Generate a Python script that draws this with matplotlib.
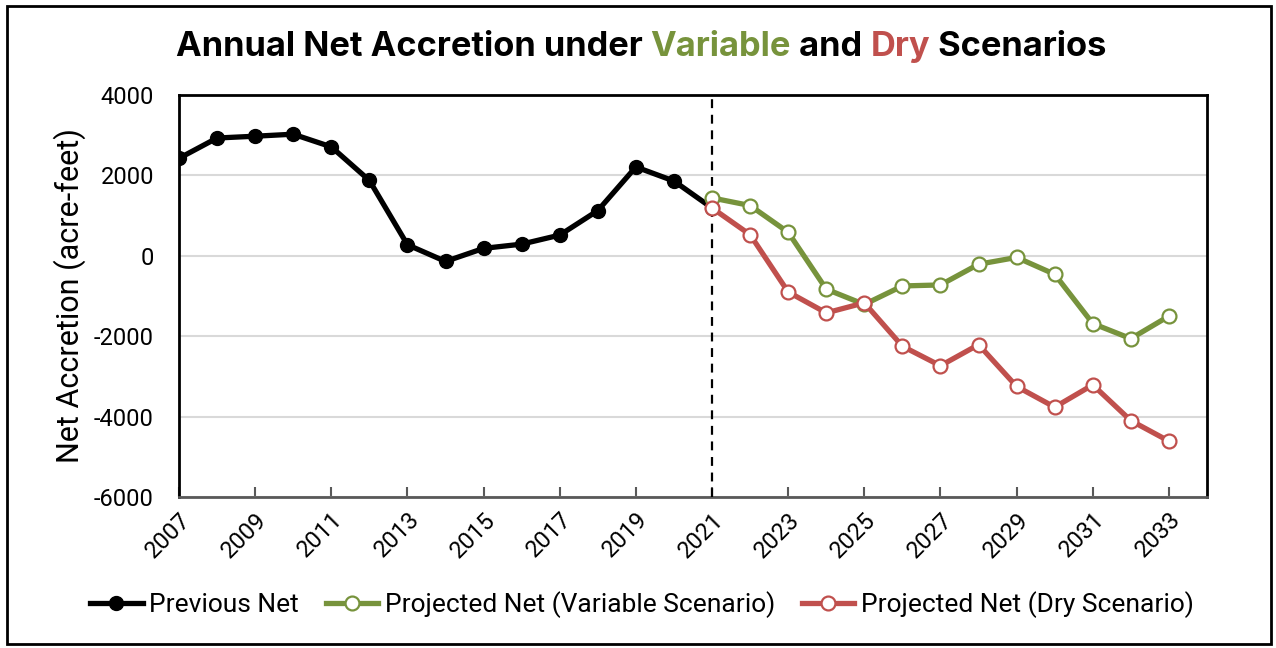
import numpy as np
import matplotlib.pyplot as plt
from matplotlib.patches import Rectangle

years_prev = [2007, 2008, 2009, 2010, 2011, 2012, 2013, 2014, 2015, 2016, 2017, 2018, 2019, 2020, 2021]
prev_net = [2425, 2930, 2975, 3025, 2710, 1875, 275, -140, 185, 290, 515, 1125, 2210, 1860, 1190]

years_proj = list(range(2021, 2034))
variable_net = [1440, 1250, 585, -830, -1210, -750, -725, -210, -40, -460, -1685, -2060, -1500]
dry_net = [1190, 525, -900, -1420, -1170, -2250, -2735, -2210, -3250, -3765, -3210, -4100, -4610]

tick_years = list(range(2007, 2034, 2))
y_ticks = [-6000, -4000, -2000, 0, 2000, 4000]

green = '#77933C'
red = '#C0504D'

plt.rcParams['font.family'] = ['Roboto', 'DejaVu Sans']

fig = plt.figure(figsize=(12.76, 6.48), dpi=100)
ax = fig.add_axes([179/1276, 1 - 497/648, (1207-179)/1276, (497-95)/648])

ax.plot(years_prev, prev_net, color='black', lw=3.8, marker='o', ms=10, label='Previous Net', zorder=4)
ax.plot(years_proj, variable_net, color=green, lw=3.8, marker='o', ms=10, mfc='white', mec=green, mew=1.6,
        label='Projected Net (Variable Scenario)', zorder=5)
ax.plot(years_proj, dry_net, color=red, lw=3.8, marker='o', ms=10, mfc='white', mec=red, mew=1.6,
        label='Projected Net (Dry Scenario)', zorder=6)
ax.axvline(2021, color='black', lw=1.6, ls=(0, (4, 3)), zorder=3)

ax.set_xlim(2007, 2034)
ax.set_ylim(-6000, 4000)
ax.set_xticks(tick_years)
ax.set_xticklabels([str(y) for y in tick_years], rotation=45, ha='right', rotation_mode='anchor', fontsize=17)
ax.set_yticks(y_ticks)
ax.set_yticklabels([str(v) for v in y_ticks], fontsize=17)
ax.tick_params(axis='x', direction='in', length=7, width=1.5, color='#595959', pad=8)
ax.tick_params(axis='y', length=0, pad=18)
ax.grid(axis='y', color='#d9d9d9', lw=1.5, zorder=0)
ax.set_axisbelow(True)
for s in ['left', 'top', 'right']:
    ax.spines[s].set_linewidth(2)
    ax.spines[s].set_color('black')
ax.spines['bottom'].set_linewidth(2)
ax.spines['bottom'].set_color('#595959')
ax.set_ylabel('Net Accretion (acre-feet)', fontsize=22, labelpad=6)

leg = fig.legend(loc='center', bbox_to_anchor=(642/1276, 1 - 605/648), ncol=3, frameon=False,
                 fontsize=19, handlelength=2.0, handletextpad=0.25, columnspacing=1.0)

# title in colored pieces
parts = [('Annual Net Accretion under ', 'black'), ('Variable', green), (' and ', 'black'),
         ('Dry', red), (' Scenarios', 'black')]
fig.canvas.draw()
r = fig.canvas.get_renderer()
texts = []
for s, c in parts:
    t = fig.text(0, 1 - 47/648, s, color=c, fontsize=24.8, fontweight='bold',
                 family=['Inter', 'DejaVu Sans'], va='center', ha='left')
    texts.append(t)
widths = [t.get_window_extent(r).width for t in texts]
total = sum(widths)
x = 641 - total / 2
for t, w in zip(texts, widths):
    t.set_x(x / 1276)
    x += w

fig.patches.append(Rectangle((7/1276, 4/648), (1271-7)/1276, (642-4)/648, transform=fig.transFigure,
                             fill=False, edgecolor='black', lw=2))

fig.savefig('out.png', dpi=100)
